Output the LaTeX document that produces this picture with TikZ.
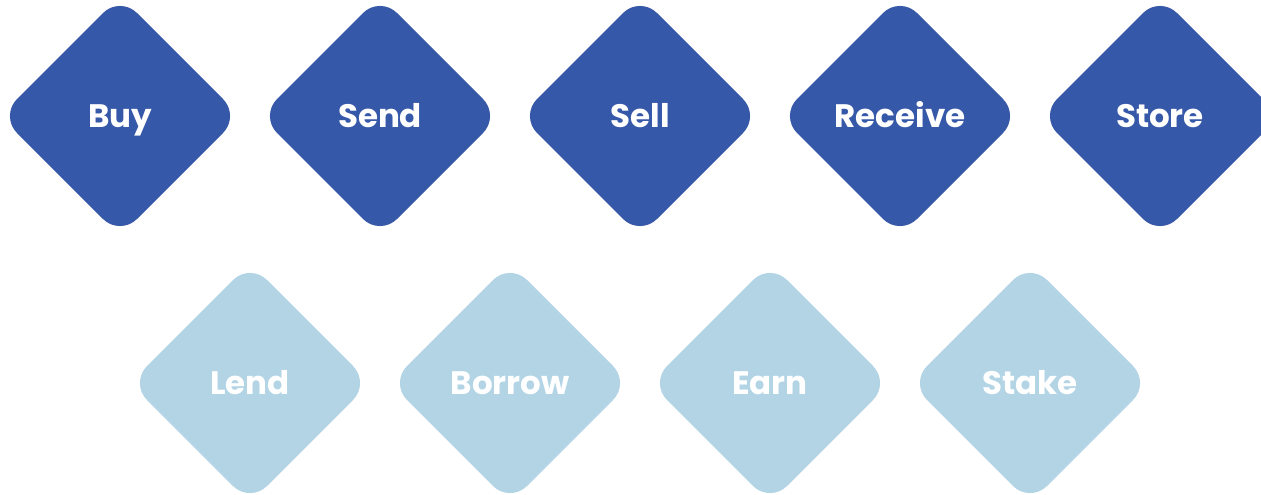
\documentclass[tikz,border=0pt]{standalone}
\usepackage{fontspec}
\setmainfont{Poppins}
\definecolor{darkgem}{HTML}{3658A8}
\definecolor{lightgem}{HTML}{B2D4E5}
\tikzset{
  gemtext/.style={text=white,font=\fontsize{32.5}{32.5}\selectfont\bfseries,inner sep=0pt,anchor=base},
}
\newcommand\mygem[4]{% name, x, y, color
  \fill[#4,rounded corners=24pt] (#2-120,#3) -- (#2,#3-120) -- (#2+120,#3) -- (#2,#3+120) -- cycle;
}
\begin{document}
\begin{tikzpicture}[x=1pt,y=-1pt]
\useasboundingbox (0,0) rectangle (1261,495);
\clip (0,0) rectangle (1261,495);
\mygem{buy}{120}{116}{darkgem}
\mygem{send}{380}{116}{darkgem}
\mygem{sell}{640}{116}{darkgem}
\mygem{receive}{900}{116}{darkgem}
\mygem{store}{1160}{116}{darkgem}
\mygem{lend}{250}{383}{lightgem}
\mygem{borrow}{510}{383}{lightgem}
\mygem{earn}{770}{383}{lightgem}
\mygem{stake}{1030}{383}{lightgem}
\node[gemtext] (buy) at (120,127.7) {Buy};
\node[gemtext] (send) at (380,127.7) {Send};
\node[gemtext] (sell) at (640,127.7) {Sell};
\node[gemtext] (receive) at (900,127.7) {Receive};
\node[gemtext] (store) at (1160,127.7) {Store};
\node[gemtext] (lend) at (250,394.5) {Lend};
\node[gemtext] (borrow) at (510,394.5) {Borrow};
\node[gemtext] (earn) at (770,394.5) {Earn};
\node[gemtext] (stake) at (1030,394.5) {Stake};
\end{tikzpicture}
\end{document}
